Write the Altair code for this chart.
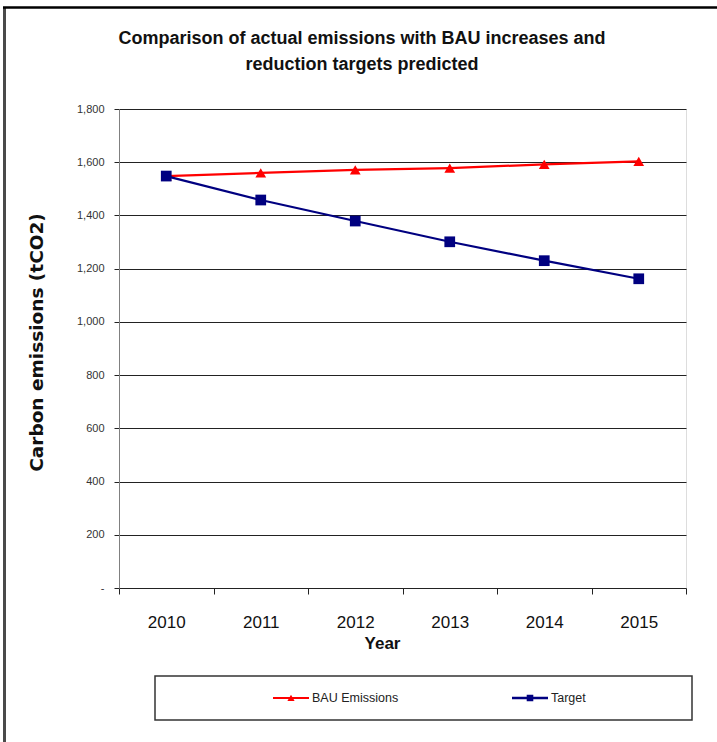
import altair as alt
import pandas as pd

# Emission series (tCO2) by year
years = ["2010", "2011", "2012", "2013", "2014", "2015"]
bau_emissions = [1548, 1560, 1571, 1578, 1592, 1603]
target = [1548, 1458, 1379, 1301, 1230, 1162]
series_names = ["BAU Emissions", "Target"]
series_colors = ["#FF0000", "#000080"]
series_markers = ["triangle-up", "square"]
y_ticks = [0, 200, 400, 600, 800, 1000, 1200, 1400, 1600, 1800]
title_lines = ["Comparison of actual emissions with BAU increases and",
               "reduction targets predicted"]

# Legend glyphs: a short line with the series marker in its middle
legend_glyphs = [
    "M-3,-0.17H3V0.17H-3ZM-0.6,0.5L0,-0.55L0.6,0.5Z",
    "M-3,-0.2H3V0.2H-3ZM-0.55,-0.55H0.55V0.55H-0.55Z",
]

rows = []
for name, vals in zip(series_names, [bau_emissions, target]):
    for yr, v in zip(years, vals):
        rows.append({"year": yr, "series": name, "value": v})
df = pd.DataFrame(rows)
legend_df = pd.DataFrame({"series": series_names})
one_row = pd.DataFrame({"k": [0]})

FONT = "Liberation Sans"
W, H = 567, 479
PAD = {"left": 119, "top": 109, "right": 31, "bottom": 154}

x_enc = alt.X(
    "year:O",
    sort=years,
    scale=alt.Scale(type="band", paddingInner=0, paddingOuter=0),
    axis=alt.Axis(
        title="Year",
        labelAngle=0,
        tickBand="extent",
        domain=False,
        ticks=True,
        tickSize=6,
        tickColor="#222222",
        labelFont=FONT,
        labelFontSize=17,
        labelColor="#111111",
        labelBaseline="top",
        labelPadding=20,
        titleFont=FONT,
        titleFontSize=17,
        titleFontWeight="bold",
        titleColor="#111111",
        titleX=263,
        titleY=60,
        titleBaseline="alphabetic",
        grid=False,
    ),
)

y_enc = alt.Y(
    "value:Q",
    scale=alt.Scale(domain=[0, 1800], nice=False),
    axis=alt.Axis(
        title="Carbon emissions (tCO2)",
        values=y_ticks,
        labelExpr="datum.value == 0 ? '-' : format(datum.value, ',')",
        labelFont=FONT,
        labelFontSize=11,
        labelColor="#333333",
        labelPadding=10,
        tickSize=5,
        tickColor="#222222",
        domainColor="#808080",
        grid=True,
        gridColor="#222222",
        gridWidth=1,
        titleFont="DejaVu Sans",
        titleFontSize=18.5,
        titleFontWeight="bold",
        titleColor="#111111",
        titleAngle=270,
        titleAlign="center",
        titleBaseline="alphabetic",
        titleX=-77,
        titleY=233,
    ),
)

color_enc = alt.Color(
    "series:N",
    scale=alt.Scale(domain=series_names, range=series_colors),
    legend=None,
)

lines = alt.Chart(df).mark_line(strokeWidth=2.2).encode(
    x=x_enc, y=y_enc, color=color_enc
)

points = alt.Chart(df).mark_point(filled=True, size=115, opacity=1).encode(
    x=x_enc,
    y=y_enc,
    color=color_enc,
    shape=alt.Shape(
        "series:N",
        scale=alt.Scale(domain=series_names, range=series_markers),
        legend=None,
    ),
)

# Legend entries placed along their own scale inside the bottom box
legend_x = alt.X(
    "series:N",
    sort=series_names,
    scale=alt.Scale(type="point", domain=series_names, range=[172, 411], padding=0),
    axis=None,
)

legend_symbols = alt.Chart(legend_df).mark_point(
    filled=True, size=144, opacity=1, strokeWidth=0
).encode(
    x=legend_x,
    y=alt.value(589),
    color=color_enc,
    shape=alt.Shape(
        "series:N",
        scale=alt.Scale(domain=series_names, range=legend_glyphs),
        legend=None,
    ),
)

legend_labels = alt.Chart(legend_df).mark_text(
    font=FONT, fontSize=12.5, color="#222222", align="left",
    baseline="middle", dx=21,
).encode(x=legend_x, y=alt.value(589), text="series:N")

# Frame around the legend entries
legend_box = alt.Chart(one_row).mark_rect(
    fill="white", stroke="#333333", strokeWidth=1.5
).encode(
    x=alt.value(36), x2=alt.value(573), y=alt.value(567), y2=alt.value(611)
)

# Chart heading, two centred lines above the plot
heading = alt.Chart(one_row).mark_text(
    font=FONT, fontSize=18, fontWeight="bold", color="#111111",
    align="center", baseline="alphabetic", lineHeight=26,
).encode(x=alt.value(243), y=alt.value(-65.5), text=alt.value(title_lines))

# Outer border of the chart: dark rule on the left, black rule on top
frame_left = alt.Chart(one_row).mark_rule(
    color="#4a4a4a", strokeWidth=3
).encode(x=alt.value(-114.5), y=alt.value(-101), y2=alt.value(633))

frame_top = alt.Chart(one_row).mark_rule(
    color="#000000", strokeWidth=2.5
).encode(x=alt.value(-116), x2=alt.value(598), y=alt.value(-101.5))

main = alt.layer(lines, points)
legend_layer = alt.layer(legend_box, legend_symbols, legend_labels)

chart = (
    alt.layer(frame_left, frame_top, heading, main, legend_layer)
    .resolve_scale(x="independent", shape="independent")
    .properties(
        width=W,
        height=H,
        padding=PAD,
        autosize=alt.AutoSizeParams(type="none"),
    )
    .configure_view(stroke=None)
    .configure(background="white")
)

chart.save("out.html", embed_options={"renderer": "svg", "actions": False})
